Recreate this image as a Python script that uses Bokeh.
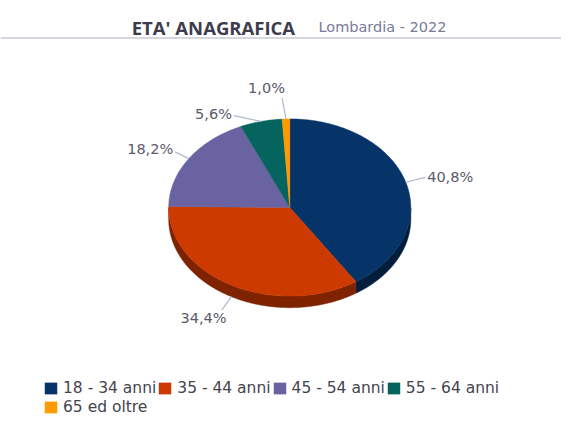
import numpy as np
from bokeh.plotting import figure
from bokeh.models import Range1d, ColumnDataSource, Legend, LegendItem, Label, Span
from bokeh.embed import file_html
from bokeh.resources import INLINE

# ---------------- data ----------------
categories = ["18 - 34 anni", "35 - 44 anni", "45 - 54 anni", "55 - 64 anni", "65 ed oltre"]
shares = [40.8, 34.4, 18.2, 5.6, 1.0]
share_labels = ["40,8%", "34,4%", "18,2%", "5,6%", "1,0%"]
colors = ["#063469", "#cc3a00", "#6a63a2", "#06645f", "#ff9a00"]
side_colors = ["#031d3d", "#7e2200", "#3f3b63", "#033b38", "#a06000"]
title_text = "ETA' ANAGRAFICA"
subtitle_text = "Lombardia - 2022"

# ---------------- layout / style ----------------
W, H = 561, 415
RW, RH = 577, 431          # design coordinate space
CX, CY, RX, RY, DEPTH = 297.5, 215.0, 124.5, 92.0, 12.0
# (leader dx, leader dy, text dx, text dy, align) relative to slice edge point / leader end
label_layout = [
    (20, -5, 2, -0.5, "left"),
    (-10, 14, 5, 8, "right"),
    (-14, -7, -2, -3, "right"),
    (-28, -6, -2, -2, "right"),
    (-4, -22, -16, -10, "center"),
]

p = figure(width=W, height=H, x_range=Range1d(0, RW), y_range=Range1d(RH, 0),
           output_backend="svg", toolbar_location=None, min_border=0,
           x_axis_location=None, y_axis_location=None)
p.grid.visible = False
p.outline_line_color = None
p.background_fill_color = "white"

vals = np.array(shares, dtype=float)
frac = vals / vals.sum()
cum = np.concatenate([[0.0], np.cumsum(frac)])


def ang(t):
    return np.deg2rad(90.0 - 360.0 * t)


# side (extrusion) bands
band_xs, band_ys, band_cols = [], [], []
for i in range(len(vals)):
    t = np.linspace(cum[i], cum[i + 1], 300)
    th = ang(t)
    mask = np.sin(th) <= 0
    if mask.sum() < 2:
        continue
    th = th[mask]
    ex = CX + RX * np.cos(th)
    ey = CY - RY * np.sin(th)
    band_xs.append(list(ex) + list(ex[::-1]))
    band_ys.append(list(ey) + list((ey + DEPTH)[::-1]))
    band_cols.append(side_colors[i])
p.patches(xs=band_xs, ys=band_ys, fill_color=band_cols, line_color=band_cols, line_width=0.5)

# top faces
face_xs, face_ys = [], []
for i in range(len(vals)):
    t = np.linspace(cum[i], cum[i + 1], max(3, int(400 * frac[i])))
    th = ang(t)
    face_xs.append([CX] + list(CX + RX * np.cos(th)))
    face_ys.append([CY] + list(CY - RY * np.sin(th)))
src = ColumnDataSource(dict(xs=face_xs, ys=face_ys, color=colors, cat=categories))
faces = p.patches(xs="xs", ys="ys", fill_color="color", line_color="color", line_width=0.5, source=src)

# labels with leader lines
for i in range(len(vals)):
    th = ang((cum[i] + cum[i + 1]) / 2)
    ex = CX + RX * np.cos(th)
    ey = CY - RY * np.sin(th) + (DEPTH if np.sin(th) < 0 else 0)
    dx, dy, tdx, tdy, align = label_layout[i]
    lx, ly = ex + dx, ey + dy
    p.line([ex, lx], [ey, ly], line_color="#b0b9cb", line_width=1.2)
    p.add_layout(Label(x=lx + tdx, y=ly + tdy, text=share_labels[i], text_align=align,
                       text_baseline="middle", text_font="DejaVu Sans",
                       text_font_size="14.5px", text_color="#5a5a6c"))

# title
p.add_layout(Label(x=135, y=28, text=title_text, text_font="Open Sans", text_font_style="bold",
                   text_font_size="18.5px", text_color="#3c3c4c", text_baseline="alphabetic"))
p.add_layout(Label(x=327, y=28, text=subtitle_text, text_font="DejaVu Sans",
                   text_font_size="14.5px", text_color="#7a7a9a", text_baseline="alphabetic"))
p.add_layout(Span(location=39, dimension="width", line_color="#d6d6de", line_width=2))

# legend
items = [LegendItem(label=categories[i], renderers=[faces], index=i) for i in range(len(vals))]
legend = Legend(items=items, location=(43, -1), orientation="horizontal", ncols=4,
                glyph_width=15, glyph_height=14, label_standoff=5, spacing=1,
                label_text_font="DejaVu Sans", label_text_font_size="15.5px",
                label_text_color="#444450", label_height=15,
                padding=0, margin=0, border_line_color=None, background_fill_alpha=0)
p.add_layout(legend)

open("out.html", "w").write(file_html(p, INLINE))
